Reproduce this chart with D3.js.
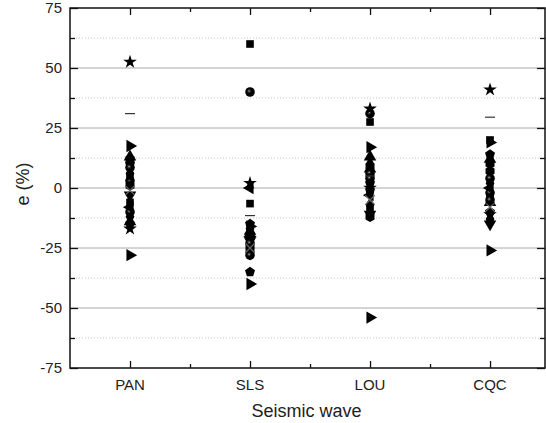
<!DOCTYPE html>
<html>
<head>
<meta charset="utf-8">
<script src="https://cdn.jsdelivr.net/npm/d3@7"></script>
<style>
  html, body { margin: 0; padding: 0; background: #fff; }
  svg { display: block; font-family: "Liberation Sans", Arial, sans-serif; }
</style>
</head>
<body>
<svg id="chart" width="546" height="423"></svg>
<script>
// categories on the x axis
const waves = ["PAN", "SLS", "LOU", "CQC"];
const yTicks = [-75, -50, -25, 0, 25, 50, 75];

// one value per wave for each symbol series
const starA      = [52.5, 2, 33, 41];
const dashA      = [31, -11.5, 5, 29.5];
const triRightA  = [-28, -40, -54, -26];
const triRightB  = [17.5, -16, 17, 19];
const squareA    = [5, 60, 27.5, 20];
const sphereA    = [8.5, 40, 31, -5];
const pentagonA  = [-15, -35, 2, -10];
const triUpA     = [13, -19, 13, 12];
const triLeftA   = [-8, 0, -3, 0];
const hexagonA   = [12, -24, 9, 10];
const diamondA   = [-12, -27, -7, -13];
const triDownA   = [-3, -22, -11, -15];
const crossA     = [-1, -25, -5, -8];
const sphereB    = [3, -28, 6, 4];
const squareB    = [-6, -6.5, -9, -3];
const starB      = [-17, -21, 0, -11];
const hexagonB   = [1, -26, -12, 7];
const diamondB   = [6, -17, 10, 2];
const sphereC    = [-10, -23, 4, -2];
const pentagonB  = [10, -15, -1, 14];
const triUpB     = [-14, -18, 8, -6];

const series = [
  { shape: "triUp", values: triUpA },
  { shape: "triUp", values: triUpB },
  { shape: "hexagon", values: hexagonA },
  { shape: "hexagon", values: hexagonB },
  { shape: "diamond", values: diamondA },
  { shape: "diamond", values: diamondB },
  { shape: "triDown", values: triDownA },
  { shape: "pentagon", values: pentagonA },
  { shape: "pentagon", values: pentagonB },
  { shape: "star", values: starB },
  { shape: "square", values: squareB },
  { shape: "sphere", values: sphereB },
  { shape: "sphere", values: sphereC },
  { shape: "triLeft", values: triLeftA },
  { shape: "cross", values: crossA },
  { shape: "triRight", values: triRightB },
  { shape: "triRight", values: triRightA },
  { shape: "square", values: squareA },
  { shape: "sphere", values: sphereA },
  { shape: "dash", values: dashA },
  { shape: "star", values: starA },
];

const svg = d3.select("#chart");
const margin = { left: 70, right: 1, top: 8, bottom: 55 };
const W = 546, H = 423;

const x = d3.scaleLinear().domain([0.5, 4.458]).range([margin.left, W - margin.right]);
const y = d3.scaleLinear().domain([-75, 75]).range([H - margin.bottom, margin.top]);

// sphere look for the circle markers
const grad = svg.append("defs").append("radialGradient")
  .attr("id", "sphere").attr("cx", "40%").attr("cy", "40%").attr("r", "60%");
grad.append("stop").attr("offset", "0%").attr("stop-color", "#ddd");
grad.append("stop").attr("offset", "15%").attr("stop-color", "#444");
grad.append("stop").attr("offset", "40%").attr("stop-color", "#000");

// gridlines
const minorVals = d3.range(-62.5, 75, 25);
svg.append("g").selectAll("line").data(minorVals).join("line")
  .attr("x1", margin.left).attr("x2", W - margin.right)
  .attr("y1", (d) => y(d)).attr("y2", (d) => y(d))
  .attr("stroke", "#c8c8c8").attr("stroke-width", 1)
  .attr("stroke-dasharray", "1,2");
svg.append("g").selectAll("line").data([-50, -25, 0, 25, 50]).join("line")
  .attr("x1", margin.left).attr("x2", W - margin.right)
  .attr("y1", (d) => y(d)).attr("y2", (d) => y(d))
  .attr("stroke", "#a8a8a8").attr("stroke-width", 1);

// axes, ticks pointing inward
const x0 = margin.left, x1 = W - margin.right;
const y0 = margin.top, y1 = H - margin.bottom;
const axisColor = "#111";

const leftAxis = svg.append("g").attr("transform", `translate(${x0},0)`)
  .call(d3.axisRight(y).tickValues(yTicks).tickSize(8).tickFormat(""));
const leftMinor = svg.append("g").attr("transform", `translate(${x0},0)`)
  .call(d3.axisRight(y).tickValues(minorVals).tickSize(5).tickFormat(""));
const rightAxis = svg.append("g").attr("transform", `translate(${x1},0)`)
  .call(d3.axisLeft(y).tickValues(yTicks).tickSize(8).tickFormat(""));
const rightMinor = svg.append("g").attr("transform", `translate(${x1},0)`)
  .call(d3.axisLeft(y).tickValues(minorVals).tickSize(5).tickFormat(""));
const bottomAxis = svg.append("g").attr("transform", `translate(0,${y1})`)
  .call(d3.axisTop(x).tickValues([1, 2, 3, 4]).tickSize(7).tickFormat(""));
const bottomMinor = svg.append("g").attr("transform", `translate(0,${y1})`)
  .call(d3.axisTop(x).tickValues([1.5, 2.5, 3.5]).tickSize(4).tickFormat(""));
const topAxis = svg.append("g").attr("transform", `translate(0,${y0})`)
  .call(d3.axisBottom(x).tickValues([1, 2, 3, 4]).tickSize(7).tickFormat(""));
const topMinor = svg.append("g").attr("transform", `translate(0,${y0})`)
  .call(d3.axisBottom(x).tickValues([1.5, 2.5, 3.5]).tickSize(4).tickFormat(""));

[leftAxis, leftMinor, rightAxis, rightMinor, bottomAxis, bottomMinor, topAxis, topMinor].forEach((g) => {
  g.select(".domain").remove();
  g.selectAll(".tick line").attr("stroke", axisColor).attr("stroke-width", 1.3);
});

// frame
svg.append("rect")
  .attr("x", x0).attr("y", y0).attr("width", x1 - x0).attr("height", y1 - y0)
  .attr("fill", "none").attr("stroke", axisColor).attr("stroke-width", 1.5);

// tick labels
svg.append("g").selectAll("text").data(yTicks).join("text")
  .attr("x", 62).attr("y", (d) => y(d)).attr("dy", "0.35em")
  .attr("text-anchor", "end").attr("font-size", 15).attr("fill", "#222")
  .text((d) => d);
svg.append("g").selectAll("text").data(waves).join("text")
  .attr("x", (d, i) => x(i + 1)).attr("y", 390)
  .attr("text-anchor", "middle").attr("font-size", 15).attr("fill", "#222")
  .text((d) => d);

// axis titles
svg.append("text")
  .attr("x", (x0 + x1) / 2 - 1).attr("y", 417)
  .attr("text-anchor", "middle").attr("font-size", 18).attr("fill", "#222")
  .text("Seismic wave");
svg.append("text")
  .attr("transform", `translate(29,${y(0) - 4}) rotate(-90)`)
  .attr("text-anchor", "middle").attr("font-size", 18).attr("fill", "#222")
  .text("e (%)");

// custom marker shapes
function polygon(n, rot) {
  return {
    draw(ctx, size) {
      const r = Math.sqrt(size / (0.5 * n * Math.sin((2 * Math.PI) / n)));
      for (let k = 0; k < n; k++) {
        const a = rot + (2 * Math.PI * k) / n;
        const px = r * Math.sin(a), py = -r * Math.cos(a);
        if (k === 0) ctx.moveTo(px, py); else ctx.lineTo(px, py);
      }
      ctx.closePath();
    },
  };
}
const shapes = {
  star: { type: d3.symbolStar, size: 58, rot: 0 },
  square: { type: d3.symbolSquare, size: 58, rot: 0 },
  sphere: { type: d3.symbolCircle, size: 72, rot: 0 },
  triUp: { type: d3.symbolTriangle, size: 68, rot: 0 },
  triDown: { type: d3.symbolTriangle, size: 68, rot: 180 },
  triRight: { type: d3.symbolTriangle, size: 66, rot: 90 },
  triLeft: { type: d3.symbolTriangle, size: 66, rot: -90 },
  diamond: { type: d3.symbolDiamond, size: 68, rot: 0 },
  pentagon: { type: polygon(5, 0), size: 66, rot: 0 },
  hexagon: { type: polygon(6, 0), size: 70, rot: 0 },
};

const points = [];
series.forEach((s) => {
  s.values.forEach((v, i) => points.push({ shape: s.shape, cat: i + 1, value: v }));
});

const marks = svg.append("g");
points.forEach((p) => {
  const cx = x(p.cat), cy = y(p.value);
  if (p.shape === "dash") {
    marks.append("line")
      .attr("x1", cx - 5).attr("x2", cx + 5).attr("y1", cy).attr("y2", cy)
      .attr("stroke", "#333").attr("stroke-width", 1.2);
  } else if (p.shape === "cross") {
    marks.append("path")
      .attr("transform", `translate(${cx},${cy})`)
      .attr("d", d3.symbol().type(d3.symbolTimes).size(60)())
      .attr("fill", "none").attr("stroke", "#666").attr("stroke-width", 1.2);
  } else {
    const sh = shapes[p.shape];
    marks.append("path")
      .attr("transform", `translate(${cx},${cy}) rotate(${sh.rot})`)
      .attr("d", d3.symbol().type(sh.type).size(sh.size)())
      .attr("fill", p.shape === "sphere" ? "url(#sphere)" : "#000");
  }
});
</script>
</body>
</html>
